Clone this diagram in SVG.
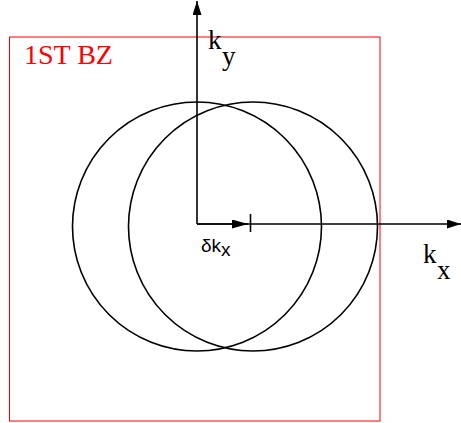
<svg xmlns="http://www.w3.org/2000/svg" width="461" height="423" viewBox="0 0 461 423">
<defs>
<style>
.ax{stroke:#000;stroke-width:1.6;fill:none}
.circ{stroke:#000;stroke-width:1.6;fill:none}
.lbl{font-family:"Liberation Serif",serif;font-size:27px;fill:#000}
.bzl{font-family:"Liberation Serif",serif;font-size:28px;fill:#f00}
.sl{font-family:"Liberation Sans",sans-serif;font-size:19px;fill:#000}
</style>
<marker id="ah" viewBox="0 0 14 9" refX="14" refY="4.5" markerWidth="14" markerHeight="9" markerUnits="userSpaceOnUse" orient="auto">
<path d="M0,0 L14,4.5 L0,9 Z" fill="#000"/>
</marker>
<marker id="ahs" viewBox="0 0 16 9" refX="16" refY="4.5" markerWidth="16" markerHeight="9" markerUnits="userSpaceOnUse" orient="auto">
<path d="M0,0 L16,4.5 L0,9 Z" fill="#000"/>
</marker>
</defs>
<rect width="461" height="423" fill="#fff"/>
<g id="bz">
<rect x="9.5" y="37" width="370.5" height="384" fill="none" stroke="#f00" stroke-width="1"/>
<text class="bzl" x="24" y="64">1ST BZ</text>
</g>
<g id="circle-left">
<circle class="circ" cx="197" cy="226.5" r="124.5"/>
</g>
<g id="circle-right">
<circle class="circ" cx="253" cy="226.5" r="124.5"/>
</g>
<g id="connectors">
<line class="ax" x1="197" y1="224" x2="197" y2="1" marker-end="url(#ah)"/>
<line class="ax" x1="197" y1="224" x2="461" y2="224" marker-end="url(#ah)"/>
<line class="ax" x1="197" y1="224" x2="248" y2="224" marker-end="url(#ahs)"/>
<line class="ax" x1="250.5" y1="214" x2="250.5" y2="232"/>
</g>
<g id="label-ky">
<text class="lbl" x="208" y="49">k</text>
<text class="lbl" x="222" y="65">y</text>
</g>
<g id="label-kx">
<text class="lbl" x="423" y="263">k</text>
<text class="lbl" x="437" y="279">x</text>
</g>
<g id="label-dkx">
<text class="sl" x="201" y="251.5">δk<tspan dy="4">x</tspan></text>
</g>
</svg>
